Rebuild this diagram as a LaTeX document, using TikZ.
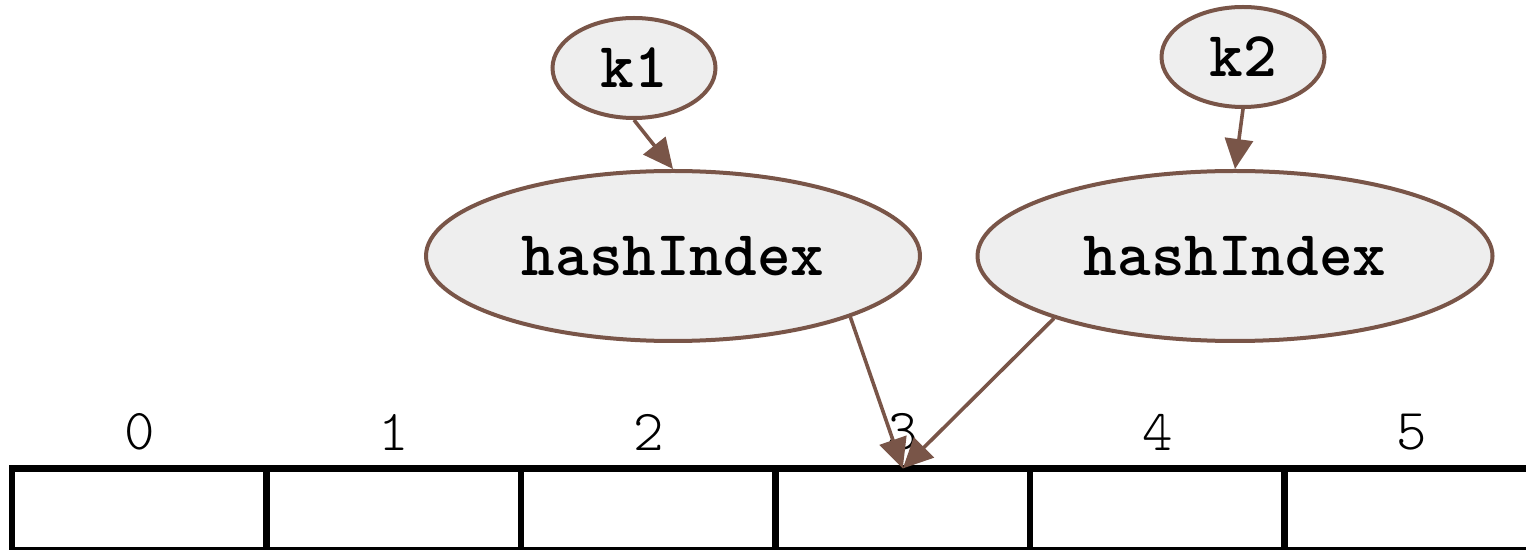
\documentclass[tikz,border=0pt]{standalone}
\usepackage{tikz}
\usetikzlibrary{shapes.geometric, arrows.meta, positioning}

\definecolor{keyfill}{HTML}{EEEEEE}
\definecolor{keyline}{HTML}{795548}

\tikzset{
   keynode/.style={ellipse, draw=keyline, fill=keyfill, line width=2pt, inner sep=0pt,
      font=\fontsize{32}{34}\selectfont\ttfamily\bfseries},
   hasharrow/.style={draw=keyline, line width=1.8pt, -{Triangle[length=15pt, width=14pt]}},
   cell/.style={rectangle, draw=black, line width=3.2pt, outer sep=0pt,
      minimum width=127.25pt, minimum height=41pt},
   idxlabel/.style={font=\fontsize{29}{31}\selectfont\ttfamily\fontseries{l}\selectfont,
      inner sep=0pt, label distance=9pt},
}

\begin{document}
\begin{tikzpicture}[x=0.5pt, y=-0.5pt]
   \useasboundingbox (0,0) rectangle (1526,550);

   % keys and their hash boxes
   \node[keynode, minimum width=81.5pt, minimum height=50pt] (k1) at (634,68) {k1};
   \node[keynode, minimum width=81.5pt, minimum height=50pt] (k2) at (1243,57) {k2};
   \node[keynode, minimum width=247pt, minimum height=85pt] (h1) at (673,256) {hashIndex};
   \node[keynode, minimum width=257.5pt, minimum height=85pt] (h2) at (1235,256) {hashIndex};

   % the table
   \node[cell, label={[idxlabel]above:0}] (c0) at (139.25,509.5) {};
   \node[cell, right=0pt of c0, label={[idxlabel]above:1}] (c1) {};
   \node[cell, right=0pt of c1, label={[idxlabel]above:2}] (c2) {};
   \node[cell, right=0pt of c2, label={[idxlabel]above:3}] (c3) {};
   \node[cell, right=0pt of c3, label={[idxlabel]above:4}] (c4) {};
   \node[cell, right=0pt of c4, label={[idxlabel]above:5}] (c5) {};

   \draw[hasharrow] (k1.south) -- (h1.north);
   \draw[hasharrow] (k2.south) -- (h2.north);
   \draw[hasharrow] (h1.-19) -- (c3.north);
   \draw[hasharrow] (h2.199) -- (c3.north);
\end{tikzpicture}
\end{document}
